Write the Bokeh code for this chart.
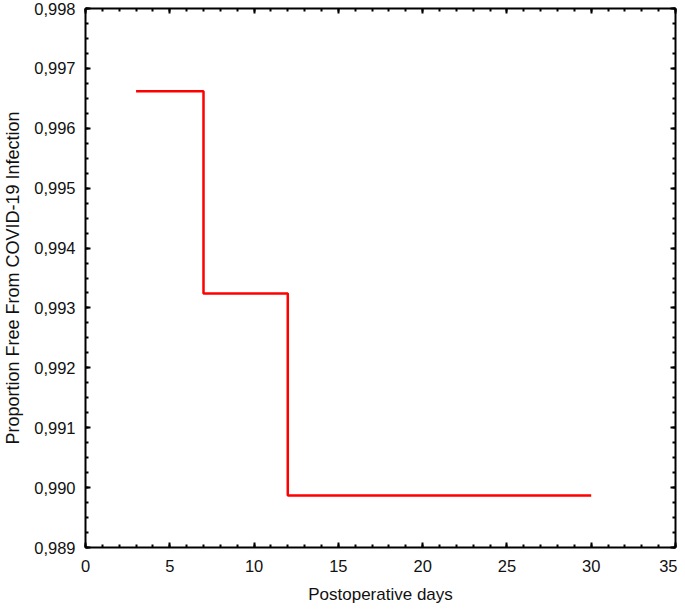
from bokeh.plotting import figure
from bokeh.models import LinearAxis, SingleIntervalTicker, CustomJSTickFormatter, Range1d
from bokeh.embed import file_html
from bokeh.resources import INLINE

# Data
days = [3, 7, 12, 30]
proportion = [0.99662, 0.99324, 0.98987, 0.98987]
x_title = "Postoperative days"
y_title = "Proportion Free From COVID-19 Infection"

FONT = "Liberation Sans"

p = figure(frame_width=590, frame_height=539, output_backend="svg", toolbar_location=None,
           x_range=Range1d(0, 35), y_range=Range1d(0.989, 0.998),
           x_axis_location=None, y_axis_location=None,
           min_border_left=0, min_border_right=2, min_border_top=8, min_border_bottom=0)
p.xgrid.visible = False
p.ygrid.visible = False
p.outline_line_color = None
p.background_fill_color = "white"
p.border_fill_color = "white"

fmt = CustomJSTickFormatter(code="return tick.toFixed(3).replace('.', ',');")
blank = CustomJSTickFormatter(code="return '';")

def style(ax, labels=True):
    ax.axis_line_width = 2
    ax.axis_line_color = "black"
    ax.major_tick_in = 5
    ax.major_tick_out = 0
    ax.minor_tick_in = 3
    ax.minor_tick_out = 0
    ax.major_tick_line_width = 2
    ax.minor_tick_line_width = 2
    ax.major_tick_line_color = "black"
    ax.minor_tick_line_color = "black"
    if labels:
        ax.major_label_text_font = FONT
        ax.major_label_text_font_size = "16.5px"
        ax.major_label_text_color = "#111111"
        ax.axis_label_text_font = FONT
        ax.axis_label_text_font_style = "normal"
        ax.axis_label_text_color = "#111111"
    else:
        ax.formatter = blank
        ax.major_label_standoff = 0
        ax.major_label_text_font_size = "1px"

xb = LinearAxis(ticker=SingleIntervalTicker(interval=5, num_minor_ticks=5), axis_label=x_title)
style(xb)
xb.axis_label_text_font_size = "17px"
xb.major_label_standoff = 12
xb.axis_label_standoff = 10
p.add_layout(xb, "below")

yl = LinearAxis(ticker=SingleIntervalTicker(interval=0.001, num_minor_ticks=4), axis_label=y_title,
                formatter=fmt)
style(yl)
yl.axis_label_text_font_size = "18px"
yl.major_label_standoff = 10
yl.axis_label_standoff = 8
p.add_layout(yl, "left")

xt = LinearAxis(ticker=SingleIntervalTicker(interval=5, num_minor_ticks=5))
style(xt, labels=False)
p.add_layout(xt, "above")

yr = LinearAxis(ticker=SingleIntervalTicker(interval=0.001, num_minor_ticks=4))
style(yr, labels=False)
p.add_layout(yr, "right")

p.step(days, proportion, mode="after", line_color="#ff0000", line_width=2.5)

open("out.html", "w").write(file_html(p, INLINE))
